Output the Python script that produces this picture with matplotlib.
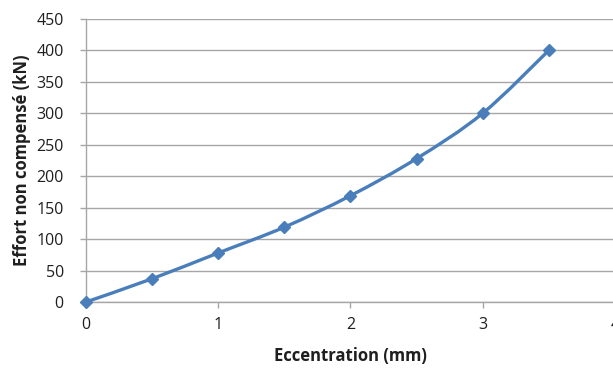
import matplotlib
matplotlib.use('Agg')
import matplotlib.pyplot as plt
from matplotlib.path import Path
from matplotlib.patches import PathPatch

# Data
eccentration_mm = [0, 0.5, 1, 1.5, 2, 2.5, 3, 3.5]
effort_kn = [0, 37, 78, 119, 169, 228, 300, 400]
x_ticks = [0, 1, 2, 3, 4]
y_ticks = [0, 50, 100, 150, 200, 250, 300, 350, 400, 450]

line_color = '#4A7EBB'
text_color = '#1F1F1F'
grid_color = '#A6A6A6'

plt.rcParams['font.family'] = ['Open Sans', 'DejaVu Sans']


def smooth_path(xs, ys, tension=1.0 / 6.0):
    """Excel style smoothed line: cubic Bezier segments through every point."""
    verts = [(xs[0], ys[0])]
    codes = [Path.MOVETO]
    n = len(xs)
    for i in range(n - 1):
        x0, y0 = (xs[i - 1], ys[i - 1]) if i > 0 else (xs[i], ys[i])
        x1, y1 = xs[i], ys[i]
        x2, y2 = xs[i + 1], ys[i + 1]
        x3, y3 = (xs[i + 2], ys[i + 2]) if i + 2 < n else (x2, y2)
        c1 = (x1 + (x2 - x0) * tension, y1 + (y2 - y0) * tension)
        c2 = (x2 - (x3 - x1) * tension, y2 - (y3 - y1) * tension)
        verts += [c1, c2, (x2, y2)]
        codes += [Path.CURVE4] * 3
    return Path(verts, codes)


fig = plt.figure(figsize=(6.13, 3.69), dpi=100)
ax = fig.add_axes([0.1403, 0.1816, 0.8627, 0.7669])

ax.add_patch(PathPatch(smooth_path(eccentration_mm, effort_kn), facecolor='none',
                       edgecolor=line_color, linewidth=2.4, capstyle='round', zorder=3))
ax.plot(eccentration_mm, effort_kn, linestyle='none', marker='D', markersize=6.5,
        color=line_color, zorder=4, clip_on=False)

ax.set_xlim(0, 4)
ax.set_ylim(0, 450)
ax.set_xticks(x_ticks)
ax.set_yticks(y_ticks)
ax.yaxis.grid(True, color=grid_color, linewidth=1.0)
ax.set_axisbelow(True)

for side in ['top', 'right']:
    ax.spines[side].set_visible(False)
for side in ['left', 'bottom']:
    ax.spines[side].set_color(grid_color)
    ax.spines[side].set_linewidth(1.0)

ax.tick_params(axis='both', colors=grid_color, labelcolor=text_color, labelsize=11.5,
               direction='out', length=4, width=1.0)
ax.tick_params(axis='x', pad=7)
ax.tick_params(axis='y', pad=12)

ax.set_xlabel('Eccentration (mm)', fontsize=12, fontweight='bold', color=text_color, labelpad=10)
ax.set_ylabel('Effort non compensé (kN)', fontsize=12, fontweight='bold', color=text_color, labelpad=4)

fig.savefig('out.png', dpi=100)
